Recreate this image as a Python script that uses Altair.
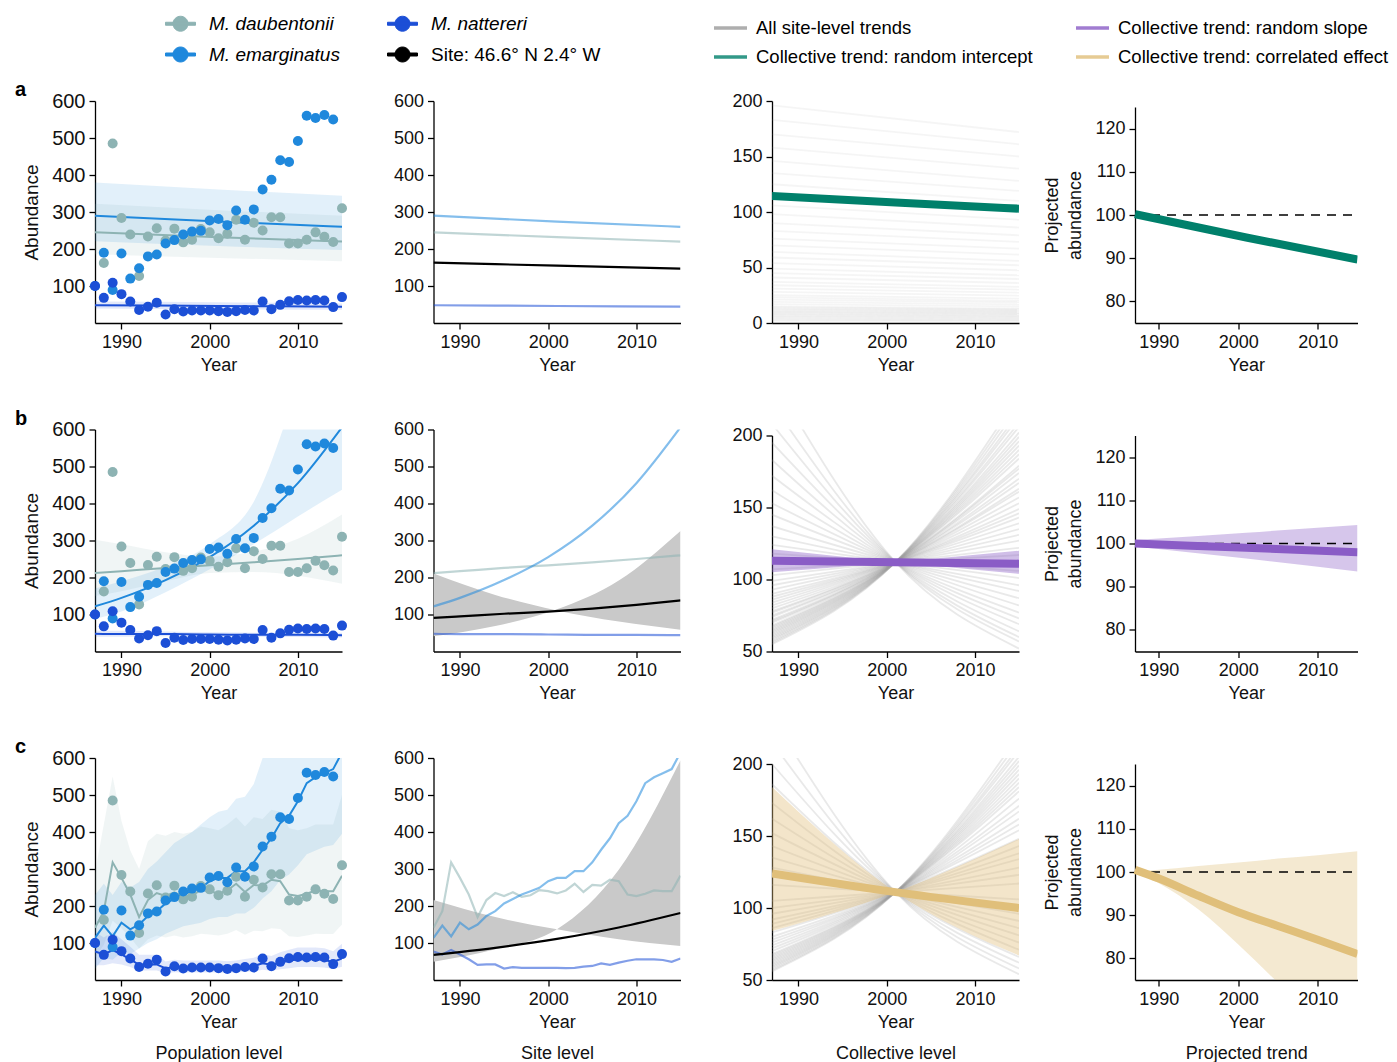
import altair as alt
import pandas as pd

FONT = "Liberation Sans"
W, H = 247, 222
SHORT = [H, 6]          # y range of the shorter (bottom-aligned) panels
X4 = [24.5, W]          # x range of the projected-trend panels

# ---------------- categories ----------------
DAUB, NATT, EMARG, SITE = "M. daubentonii", "M. nattereri", "M. emarginatus", "Site: 46.6° N 2.4°  W"
SPECIES = [DAUB, EMARG, NATT, SITE]
SPECIES_COLORS = ["#8db3b3", "#1f88dc", "#1c4fd6", "#000000"]
ALL = "All site-level trends"
SLOPE = "Collective trend: random slope"
INTER = "Collective trend: random intercept"
CORR = "Collective trend: correlated effect"
TRENDS = [ALL, INTER, SLOPE, CORR]
TREND_COLORS = ["#9a9a9a", "#00806b", "#8a5cc6", "#e0bf7a"]
COL_TITLES = ["Population level", "Site level", "Collective level", "Projected trend"]

# ---------------- observed counts ----------------
YEARS = list(range(1987, 2016))
OBS_DAUB = [None, 162, 485, 284, 239, 127, 234, 256, 223, 255, 218, 225, 254, 245, 229,
            241, 279, 225, 271, 250, 286, 286, 215, 215, 225, 245, 233, 219, 310]
OBS_EMARG = [100, 190, 89, 188, 120, 148, 180, 185, 215, 224, 239, 247, 249, 277, 281,
             264, 304, 279, 307, 361, 387, 440, 435, 492, 560, 554, 562, 550, None]
OBS_NATT = [100, 68, 109, 78, 58, 35, 44, 55, 23, 37, 31, 34, 34, 34, 32,
            30, 32, 35, 34, 58, 37, 49, 59, 62, 61, 62, 61, 43, 70]

# ---------------- row a: random intercept ----------------
YRS_A = [1987, 2001, 2015]
FIT_A = {DAUB: [245, 232, 220], EMARG: [290, 274, 260], NATT: [48, 46, 44], SITE: [163, 155, 147]}
BAND_A_LO = {DAUB: [186, 176, 167], EMARG: [221, 208, 197], NATT: [39, 37, 36]}
BAND_A_HI = {DAUB: [322, 305, 290], EMARG: [380, 361, 344], NATT: [58, 56, 53]}
SITES_A_START = [2, 3, 4, 5, 6, 7, 8, 9, 10, 11, 12, 13, 14, 15, 17, 19, 21, 23, 25, 28,
                 31, 34, 37, 41, 45, 49, 54, 59, 64, 70, 76, 83, 90, 98, 106, 115, 125, 135, 146, 158,
                 170, 183, 196]
SITES_A_END = [1.8, 2.6, 3.5, 4.4, 5.3, 6.2, 7, 8, 8.8, 9.7, 10.6, 11.5, 12.3, 13.2, 15, 16.7, 18.5, 20, 22, 24.6,
               27.3, 30, 32.6, 36, 39.6, 43, 47.5, 52, 56, 61.6, 67, 73, 79, 86, 93, 101, 110, 119, 128, 139,
               150, 161, 172]
COLL_A = [114.5, 108.5, 103]
PROJ_A = [100.2, 94.8, 89.7]

# ---------------- row b: random slope ----------------
YRS_B = [1987, 1990, 1995, 2000, 2005, 2010, 2015]
FIT_B = {DAUB: [212, 217, 226, 233, 241, 250, 260],
         EMARG: [122, 145, 193, 255, 340, 455, 606],
         NATT: [48, 47, 47, 46, 45, 45, 44],
         SITE: [91, 95, 102, 108, 116, 126, 138]}
BAND_B_LO = {DAUB: [150, 163, 190, 212, 215, 205, 183],
             EMARG: [88, 108, 160, 222, 290, 365, 437],
             NATT: [40, 40, 41, 41, 40, 39, 38]}
BAND_B_HI = {DAUB: [302, 290, 268, 256, 270, 305, 370],
             EMARG: [170, 190, 230, 290, 405, 720, 1100],
             NATT: [57, 56, 54, 52, 51, 51, 51]}
YRS_SITEBAND = [1987, 1994, 2001, 2008, 2015]
SITEBAND_B_1 = [41, 69, 114, 192, 326]
SITEBAND_B_2 = [211, 153, 111, 81, 59]
YRS_FAN = [1987, 2001, 2015]
FAN_B_START = [55, 56, 57, 58, 59, 60, 61, 62, 63, 64, 65, 66, 67, 68, 70, 71, 72, 74, 75, 77,
               78, 80, 82, 84, 86, 88, 90, 93, 96, 99, 103, 107,
               118, 124, 130, 137, 145, 153, 162, 172, 183, 195, 208, 222, 240]
FAN_B_END = [228, 224, 220, 216, 213, 209, 206, 202, 199, 196, 193, 190, 187, 184, 179, 177, 174, 170, 167, 163,
             161, 157, 153, 149, 146, 143, 139, 135, 131, 127, 122, 117,
             106, 101, 96, 92, 87, 82, 77, 73, 69, 64, 60, 57, 52]
FAN_B_PIVOT = 112
COLL_B = [113, 112, 111]
COLL_B_LO = [121, 112, 104]
COLL_B_HI = [105, 112, 120]
PROJ_B = [100, 99, 98]
PROJ_B_LO = [99.3, 96.5, 93.5]
PROJ_B_HI = [100.8, 102.5, 104.3]

# ---------------- row c: correlated effect ----------------
FIT_C = {
    DAUB: [141, 186, 318, 276, 231, 170, 216, 235, 227, 237, 225, 229, 243, 240, 234,
           242, 260, 238, 257, 255, 271, 267, 231, 227, 233, 242, 240, 240, 282],
    EMARG: [114, 147, 118, 155, 137, 150, 173, 186, 207, 219, 231, 240, 249, 267, 276,
            276, 294, 294, 318, 352, 383, 424, 444, 483, 532, 548, 559, 570, 615],
    NATT: [77, 69, 81, 69, 56, 41, 42, 42, 31, 35, 33, 33, 33, 33, 33,
           32, 33, 36, 38, 45, 41, 47, 52, 56, 56, 56, 54, 49, 58],
}
BAND_C_LO = {
    DAUB: [60, 95, 160, 140, 115, 85, 110, 120, 115, 120, 115, 118, 125, 123, 120,
           125, 135, 122, 133, 132, 140, 138, 118, 116, 120, 125, 124, 124, 150],
    EMARG: [30, 60, 55, 75, 70, 85, 100, 110, 125, 135, 145, 150, 155, 165, 170,
            170, 180, 180, 195, 220, 240, 270, 285, 310, 340, 350, 360, 365, 395],
    NATT: [40, 40, 45, 42, 35, 25, 26, 26, 18, 21, 20, 20, 20, 20, 20,
           19, 20, 22, 23, 28, 25, 29, 32, 35, 35, 35, 34, 30, 36],
}
BAND_C_HI = {
    DAUB: [290, 420, 550, 430, 350, 300, 375, 395, 390, 400, 395, 400, 415, 410, 405,
           420, 440, 415, 440, 435, 460, 455, 410, 405, 410, 420, 420, 420, 500],
    EMARG: [230, 260, 230, 265, 250, 265, 300, 320, 345, 370, 385, 400, 420, 440, 455,
            460, 490, 495, 530, 600, 650, 720, 760, 820, 900, 920, 950, 960, 1020],
    NATT: [130, 115, 130, 110, 90, 68, 68, 68, 50, 55, 53, 53, 53, 53, 53,
           51, 53, 57, 60, 70, 65, 75, 82, 88, 88, 88, 86, 78, 98],
}
SITE_C = [68, 87, 111, 142, 181]
SITEBAND_C_1 = [49, 83, 137, 298, 594]
SITEBAND_C_2 = [216, 170, 137, 110, 92]
FAN_C_START = [56, 57, 58, 59, 60, 61, 62, 63, 64, 65, 66, 67, 68, 70, 72, 74, 76, 78, 80, 83,
               86, 89, 92, 96, 100, 105,
               116, 122, 128, 135, 143, 152, 162, 173, 186, 200, 215, 232]
FAN_C_END = [220, 216, 212, 209, 205, 202, 199, 196, 193, 190, 187, 184, 181, 176, 171, 167, 162, 158, 154, 148,
             143, 138, 134, 128, 123, 117,
             106, 101, 96, 91, 86, 81, 76, 71, 66, 62, 58, 54]
FAN_C_PIVOT = 111
COLL_C = [124, 111, 100]
COLL_C_LO = [184, 111, 67]
COLL_C_HI = [84, 111, 148]
YRS_PROJ_C = [1987, 1990, 1995, 2000, 2005, 2010, 2015]
PROJ_C = [100.5, 98.5, 94.5, 90.7, 87.5, 84.3, 81]
PROJ_C_LO = [100, 97.4, 91.3, 83.2, 74.4, 66, 57]
PROJ_C_HI = [100, 100.5, 101.4, 102.2, 103.1, 103.9, 104.8]

REF_LINE = {"x0": [1987], "x1": [2015], "value": [100]}


# ---------------- table builders ----------------
def series_frame(years, series):
    rows = []
    for name, vals in series.items():
        for yr, v in zip(years, vals):
            if v is not None:
                rows.append({"series": name, "year": yr, "value": v})
    return pd.DataFrame(rows)


def band_frame(years, lo, hi):
    rows = []
    for name in lo:
        for yr, a, b in zip(years, lo[name], hi[name]):
            rows.append({"series": name, "year": yr, "lo": a, "hi": b})
    return pd.DataFrame(rows)


def one_band(years, lo, hi):
    return pd.DataFrame({"year": years, "lo": lo, "hi": hi})


def trend_frame(years, vals, trend):
    return pd.DataFrame({"year": years, "value": vals, "trend": trend})


def sites_frame(years, columns):
    rows = []
    for i, vals in enumerate(zip(*columns)):
        for yr, v in zip(years, vals):
            rows.append({"site": i, "year": yr, "value": v, "trend": ALL})
    return pd.DataFrame(rows)


POINTS = series_frame(YEARS, {DAUB: OBS_DAUB, EMARG: OBS_EMARG, NATT: OBS_NATT})

# ---------------- encodings ----------------
SP_PATH = "M-1,-0.1L1,-0.1L1,0.1L-1,0.1Z M0.5,0A0.5,0.5,0,1,1,-0.5,0A0.5,0.5,0,1,1,0.5,0Z"
LEG_SP = alt.Legend(title=None, orient="none", legendX=70, legendY=-93, columns=2,
                    columnPadding=45, rowPadding=5, padding=0,
                    symbolType=SP_PATH, symbolSize=900, symbolStrokeWidth=1, symbolOpacity=1,
                    labelFont=FONT, labelFontSize=19, labelLimit=400, labelOffset=13,
                    labelColor="black",
                    labelFontStyle={"expr": "indexof(datum.label, 'Site') === 0 ? 'normal' : 'italic'"})
LEG_TR = alt.Legend(title=None, orient="none", legendX=617, legendY=-91.5, columns=2,
                    columnPadding=36, rowPadding=1, padding=0,
                    symbolType="M-1,0L1,0", symbolSize=1089, symbolStrokeWidth=3.5, symbolOpacity=0.8,
                    labelFont=FONT, labelFontSize=18.5, labelLimit=400, labelOffset=7, labelColor="black")
SP_SCALE = alt.Scale(domain=SPECIES, range=SPECIES_COLORS)
TR_SCALE = alt.Scale(domain=TRENDS, range=TREND_COLORS)


def color_enc():
    return alt.Color("series:N", scale=SP_SCALE, legend=LEG_SP)


def stroke_enc():
    return alt.Stroke("trend:N", scale=TR_SCALE, legend=LEG_TR)


def x_enc(title, rng=None, field="year"):
    kw = dict(domain=[1987, 2015], nice=False, zero=False)
    if rng is not None:
        kw["range"] = rng
    return alt.X(f"{field}:Q", scale=alt.Scale(**kw),
                 axis=alt.Axis(values=[1990, 2000, 2010], format="d", title=title, titleLineHeight=31))


def y_enc(field, domain, values, title=None, rng=None, offset=None, big=False):
    kw = dict(domain=domain, nice=False, zero=False)
    if rng is not None:
        kw["range"] = rng
    ax = dict(values=values, title=title, titleLineHeight=23, titlePadding=10)
    if big:
        ax["labelFontSize"] = 20
        ax["titleFontSize"] = 19
    if offset is not None:
        ax["offset"] = offset
    return alt.Y(f"{field}:Q", scale=alt.Scale(**kw), axis=alt.Axis(**ax), stack=None)


ABUND = dict(domain=[0, 600], values=[100, 200, 300, 400, 500, 600])


# ---------------- panels ----------------
def population_panel(fit, band, xtitle, label, interp):
    x = x_enc(xtitle)
    yk = dict(title="Abundance", big=True, **ABUND)
    bands = alt.Chart(band).mark_area(clip=True, interpolate=interp).encode(
        x=x, y=y_enc("lo", **yk), y2="hi:Q",
        color=color_enc(), fillOpacity=alt.value(0.13))
    lines = alt.Chart(fit[fit.series != SITE]).mark_line(clip=True, interpolate=interp).encode(
        x=x, y=y_enc("value", **yk), color=color_enc(), strokeWidth=alt.value(2))
    pts = alt.Chart(POINTS).mark_circle().encode(
        x=x, y=y_enc("value", **yk), color=color_enc(),
        size=alt.value(100), opacity=alt.value(1))
    return alt.layer(bands, lines, pts).properties(
        width=W, height=H,
        title=alt.TitleParams(label, anchor="start", frame="group", dx=-80, dy=9, offset=0,
                              font=FONT, fontSize=20, fontWeight="bold", color="black"))


def site_panel(fit, site_fit, band, xtitle, interp):
    x = x_enc(xtitle)
    layers = []
    if band is not None:
        layers.append(alt.Chart(band).mark_area(clip=True, interpolate="monotone", color="#c9c9c9").encode(
            x=x, y=y_enc("lo", **ABUND), y2="hi:Q"))
    layers.append(alt.Chart(fit[fit.series != SITE]).mark_line(clip=True, interpolate=interp).encode(
        x=x, y=y_enc("value", **ABUND), color=color_enc(),
        opacity=alt.value(0.55), strokeWidth=alt.value(2.2)))
    layers.append(alt.Chart(site_fit).mark_line(clip=True, interpolate="monotone").encode(
        x=x, y=y_enc("value", **ABUND), color=color_enc(), strokeWidth=alt.value(2.2)))
    return alt.layer(*layers).properties(width=W, height=H)


def collective_panel(sites, coll, band, band_color, xtitle, domain, values, rng, site_opacity):
    x = x_enc(xtitle)
    yk = dict(domain=domain, values=values, rng=rng)
    layers = [alt.Chart(sites).mark_line(clip=True, interpolate="monotone").encode(
        x=x, y=y_enc("value", **yk), detail="site:N", stroke=stroke_enc(),
        strokeOpacity=alt.value(site_opacity), strokeWidth=alt.value(1.8))]
    if band is not None:
        layers.append(alt.Chart(band).mark_area(clip=True, interpolate="monotone", color=band_color).encode(
            x=x, y=y_enc("lo", **yk), y2="hi:Q", fillOpacity=alt.value(0.4)))
    layers.append(alt.Chart(coll).mark_line(clip=True, interpolate="monotone").encode(
        x=x, y=y_enc("value", **yk), stroke=stroke_enc(), strokeWidth=alt.value(8)))
    return alt.layer(*layers).properties(width=W, height=H)


def projected_panel(proj, band, band_color, xtitle):
    yk = dict(domain=[75, 125], values=[80, 90, 100, 110, 120], title=["Projected", "abundance"],
              rng=SHORT, offset=-X4[0])
    x = x_enc(xtitle, X4)
    layers = []
    if band is not None:
        layers.append(alt.Chart(band).mark_area(clip=True, interpolate="monotone", color=band_color).encode(
            x=x, y=y_enc("lo", **yk), y2="hi:Q", fillOpacity=alt.value(0.35)))
    layers.append(alt.Chart(pd.DataFrame(REF_LINE)).mark_rule(color="black", strokeDash=[9, 7]).encode(
        x=x_enc(xtitle, X4, field="x0"), x2="x1:Q", y=y_enc("value", **yk), strokeWidth=alt.value(1.3)))
    layers.append(alt.Chart(proj).mark_line(clip=True, interpolate="monotone").encode(
        x=x, y=y_enc("value", **yk), stroke=stroke_enc(), strokeWidth=alt.value(8)))
    return alt.layer(*layers).properties(width=W, height=H)


def xt(i, last):
    return ["Year", COL_TITLES[i]] if last else "Year"


# row a
fit_a = series_frame(YRS_A, FIT_A)
row_a = [
    population_panel(fit_a, band_frame(YRS_A, BAND_A_LO, BAND_A_HI), xt(0, False), "a", "monotone"),
    site_panel(fit_a, fit_a[fit_a.series == SITE], None, xt(1, False), "monotone"),
    collective_panel(sites_frame([1987, 2015], [SITES_A_START, SITES_A_END]),
                     trend_frame(YRS_A, COLL_A, INTER), None, None, xt(2, False),
                     [0, 200], [0, 50, 100, 150, 200], None, 0.1),
    projected_panel(trend_frame(YRS_A, PROJ_A, INTER), None, None, xt(3, False)),
]

# row b
fit_b = series_frame(YRS_B, FIT_B)
row_b = [
    population_panel(fit_b, band_frame(YRS_B, BAND_B_LO, BAND_B_HI), xt(0, False), "b", "monotone"),
    site_panel(fit_b, fit_b[fit_b.series == SITE], one_band(YRS_SITEBAND, SITEBAND_B_1, SITEBAND_B_2),
               xt(1, False), "monotone"),
    collective_panel(sites_frame(YRS_FAN, [FAN_B_START, [FAN_B_PIVOT] * len(FAN_B_START), FAN_B_END]),
                     trend_frame(YRS_FAN, COLL_B, SLOPE), one_band(YRS_FAN, COLL_B_LO, COLL_B_HI),
                     "#8a5cc6", xt(2, False), [50, 200], [50, 100, 150, 200], SHORT, 0.22),
    projected_panel(trend_frame(YRS_FAN, PROJ_B, SLOPE), one_band(YRS_FAN, PROJ_B_LO, PROJ_B_HI),
                    "#8a5cc6", xt(3, False)),
]

# row c
fit_c = series_frame(YEARS, FIT_C)
site_c = pd.DataFrame({"series": SITE, "year": YRS_SITEBAND, "value": SITE_C})
row_c = [
    population_panel(fit_c, band_frame(YEARS, BAND_C_LO, BAND_C_HI), xt(0, True), "c", "linear"),
    site_panel(fit_c, site_c, one_band(YRS_SITEBAND, SITEBAND_C_1, SITEBAND_C_2), xt(1, True), "linear"),
    collective_panel(sites_frame(YRS_FAN, [FAN_C_START, [FAN_C_PIVOT] * len(FAN_C_START), FAN_C_END]),
                     trend_frame(YRS_FAN, COLL_C, CORR), one_band(YRS_FAN, COLL_C_LO, COLL_C_HI),
                     "#e0bf7a", xt(2, True), [50, 200], [50, 100, 150, 200], SHORT, 0.22),
    projected_panel(trend_frame(YRS_PROJ_C, PROJ_C, CORR), one_band(YRS_PROJ_C, PROJ_C_LO, PROJ_C_HI),
                    "#e0bf7a", xt(3, True)),
]

chart = alt.concat(*(row_a + row_b + row_c), columns=4,
                   spacing={"row": 106.5, "column": 91.5}, bounds="flush").properties(
    padding={"left": 7, "top": 0, "right": 0, "bottom": 0}
).configure_view(stroke=None).configure_axis(
    domainColor="black", domainWidth=1.3, tickColor="black", tickWidth=1.3, tickSize=6,
    labelFont=FONT, labelFontSize=18, labelColor="#111111", labelPadding=4, labelFlush=False,
    titleFont=FONT, titleFontSize=18, titleFontWeight="normal", titleColor="#111111",
    titlePadding=5, grid=False
)

chart.save("out.html", embed_options={"renderer": "svg", "actions": False})
